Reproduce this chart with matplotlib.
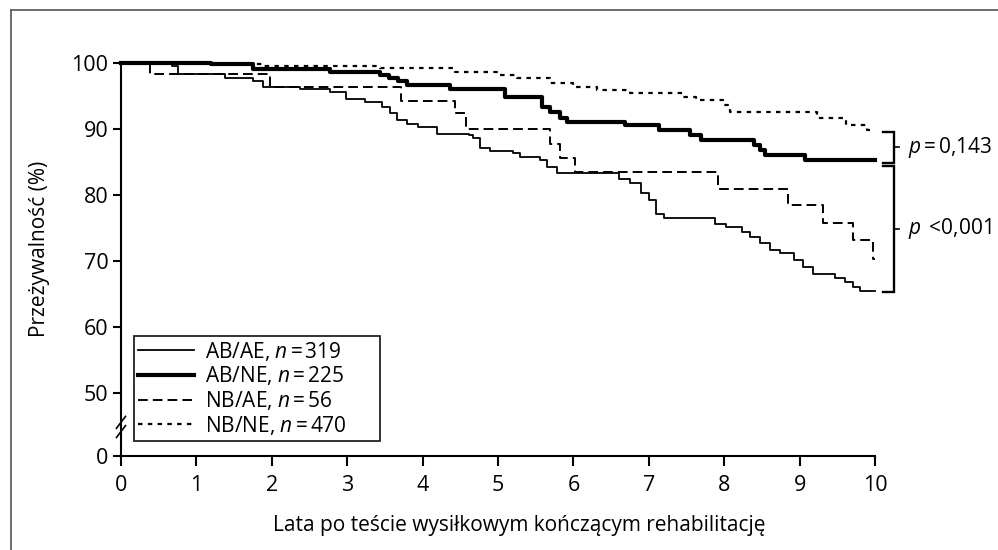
import matplotlib
matplotlib.use('Agg')
import matplotlib.pyplot as plt
from matplotlib.lines import Line2D

plt.rcParams['font.family'] = ['Open Sans', 'DejaVu Sans']
plt.rcParams['mathtext.fontset'] = 'custom'
plt.rcParams['mathtext.rm'] = 'Open Sans'
plt.rcParams['mathtext.it'] = 'Open Sans:italic'

# Kaplan-Meier steps (years, survival %)
abae_t = [0, 0.68, 0.76, 1.38, 1.75, 1.88, 2.37, 2.77, 2.99, 3.24, 3.46, 3.57, 3.66,
          3.79, 3.94, 4.19, 4.61, 4.67, 4.76, 4.89, 5.2, 5.29, 5.56, 5.65, 5.78,
          6.6, 6.75, 6.9, 7.0, 7.1, 7.2, 7.88, 8.03, 8.23, 8.34, 8.47, 8.61, 8.74,
          8.92, 9.05, 9.18, 9.47, 9.6, 9.71, 9.8, 10]
abae_s = [100, 99.5, 98.4, 97.8, 97.2, 96.4, 96.0, 95.6, 94.6, 94.1, 93.4, 92.4, 91.3,
          90.8, 90.3, 89.3, 89.1, 88.6, 87.2, 86.7, 86.3, 85.8, 85.3, 84.3, 83.3,
          82.5, 81.8, 80.3, 79.2, 77.2, 76.5, 75.7, 75.2, 74.4, 73.7, 72.7, 71.7, 71.2,
          70.2, 69.1, 68.1, 67.4, 66.9, 66.1, 65.5, 65.5]

abne_t = [0, 1.2, 1.75, 2.77, 3.44, 3.55, 3.68, 3.79, 4.36, 5.09, 5.58, 5.69, 5.82,
          5.91, 6.68, 7.13, 7.55, 7.69, 8.4, 8.47, 8.54, 9.07, 10]
abne_s = [100, 99.8, 99.1, 98.7, 98.2, 97.7, 97.2, 96.7, 96.0, 94.9, 93.4, 92.6, 91.6,
          91.1, 90.6, 89.8, 89.1, 88.3, 87.6, 86.9, 86.1, 85.3, 85.3]

nbae_t = [0, 0.38, 1.97, 3.72, 4.43, 4.58, 5.69, 5.82, 6.02, 7.92, 8.85, 9.31, 9.71,
          9.98, 10]
nbae_s = [100, 98.3, 96.4, 94.3, 92.4, 90.0, 87.8, 85.6, 83.5, 80.9, 78.5, 75.8, 73.2,
          70.4, 70.4]

nbne_t = [0, 1.2, 1.9, 3.44, 4.43, 5.0, 5.25, 5.69, 6.0, 6.31, 6.75, 7.45, 7.63, 7.98,
          8.08, 9.23, 9.62, 9.89, 10]
nbne_s = [100, 99.8, 99.6, 99.2, 98.7, 98.2, 97.7, 97.0, 96.4, 95.9, 95.4, 94.9, 94.4,
          93.6, 92.6, 91.6, 90.6, 89.8, 89.8]

labels = [r'AB/AE, $n\,$=$\,$319', r'AB/NE, $n\,$=$\,$225',
          r'NB/AE, $n\,$=$\,$56', r'NB/NE, $n\,$=$\,$470']
y_ticks = [40.5, 50, 60, 70, 80, 90, 100]
y_ticklabels = ['0', '50', '60', '70', '80', '90', '100']
p_labels = [r'$p\,$=$\,$0,143', r'$p\,$ <0,001']
# brackets: (top, bottom) survival values
brackets = [(89.6, 84.9), (84.4, 65.4)]

W, H = 998, 550
fig = plt.figure(figsize=(W / 100, H / 100), dpi=100)
ax = fig.add_axes([121 / W, 1 - 456 / H, (875 - 121) / W, (456 - 63) / H])

fs = 15
ax.step(abae_t, abae_s, where='post', color='black', lw=1.3, clip_on=False, label=labels[0])
ax.step(abne_t, abne_s, where='post', color='black', lw=3.0, clip_on=False, label=labels[1])
ax.step(nbae_t, nbae_s, where='post', color='black', lw=1.4, ls=(0, (5, 2.6)),
        clip_on=False, label=labels[2])
ax.step(nbne_t, nbne_s, where='post', color='black', lw=1.6, ls=(0, (2.0, 2.4)),
        clip_on=False, label=labels[3])

ax.set_xlim(0, 10)
ax.set_ylim(40.5, 100)
ax.set_xticks(range(11))
ax.set_yticks(y_ticks)
ax.set_yticklabels(y_ticklabels)
for s in ['top', 'right']:
    ax.spines[s].set_visible(False)
for s in ['left', 'bottom']:
    ax.spines[s].set_linewidth(1.5)
ax.tick_params(axis='both', labelsize=15.5, width=1.5, direction='out')
ax.tick_params(axis='y', length=6, pad=3)
ax.tick_params(axis='x', length=7, pad=7)

# axis break marks
tr = ax.get_yaxis_transform()
for yb in [44.2, 45.6]:
    ax.plot([-0.006, 0.006], [yb - 0.9, yb + 0.9], color='black', lw=1.2,
            transform=tr, clip_on=False)

# p-value brackets
xb, xl, xr = 10.25, 10.11, 10.32
for (top, bot), lab in zip(brackets, p_labels):
    ax.plot([xl, xb, xb, xl], [top, top, bot, bot], color='black', lw=1.7,
            clip_on=False, solid_joinstyle='miter')
    mid = (top + bot) / 2
    ax.plot([xb, xr], [mid, mid], color='black', lw=1.2, clip_on=False)
    ax.text(10.44, mid, lab, fontsize=fs, va='center', ha='left', clip_on=False)

leg = ax.legend(loc='upper left', bbox_to_anchor=(134 / W, 1 - 341 / H, 246 / W, 0.01),
                bbox_transform=fig.transFigure, mode='expand', fontsize=fs,
                handlelength=2.7, handletextpad=0.5, labelspacing=0.08,
                borderpad=0.2, borderaxespad=0, fancybox=False, framealpha=1)
leg.get_frame().set_edgecolor('#222222')
leg.get_frame().set_linewidth(1.3)

fig.text(40 / W, 1 - 249 / H, 'Przeżywalność (%)', rotation=90, fontsize=fs,
         ha='center', va='center')
fig.text(519 / W, 1 - 526 / H, 'Lata po teście wysiłkowym kończącym rehabilitację',
         fontsize=fs, ha='center', va='center')

# outer frame
fig.add_artist(Line2D([10.5 / W, 10.5 / W], [0, 1 - 9.5 / H], color='#555555', lw=1.2))
fig.add_artist(Line2D([10.5 / W, 1], [1 - 9.5 / H, 1 - 9.5 / H], color='#555555', lw=1.2))

fig.savefig('out.png', dpi=100)
